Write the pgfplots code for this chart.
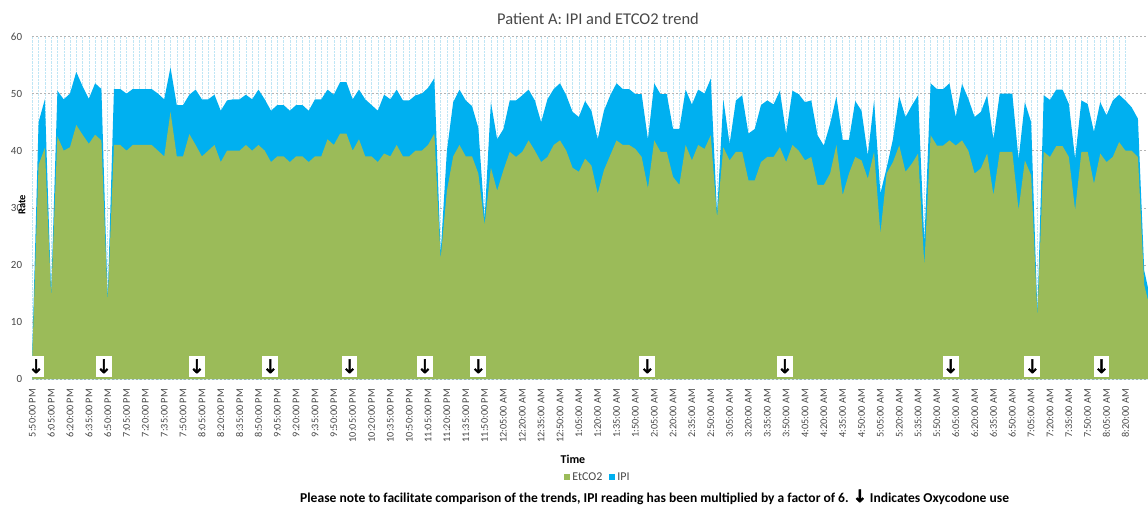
\documentclass[border=0pt]{standalone}
\usepackage{pgfplots}
\pgfplotsset{compat=1.18}
\usepackage{pgfplotstable}
\usepackage{fontspec}
\setmainfont{Carlito}
\newfontfamily\arrowfont[FakeBold=2.5]{DejaVu Sans}
\definecolor{etgreen}{HTML}{9BBB59}
\definecolor{ipiblue}{HTML}{00B0F0}
\definecolor{gridblue}{HTML}{BFE6F5}
\definecolor{gridgray}{HTML}{B4B4B4}
\definecolor{labelgray}{HTML}{474747}
\pgfplotstableread{
i ipi et
0 5 4
1 45 37.5
2 49 40.5
3 15 14.5
4 50.5 42.5
5 49 40
6 50 40.6
7 53.8 44.5
8 51.3 42.8
9 49.1 41.2
10 51.8 42.8
11 50.8 41.8
12 14 13.5
13 50.8 41
14 50.8 41
15 50 40
16 50.8 41
17 50.8 41
18 50.8 41
19 50.8 41
20 50 40
21 49 39
22 54.6 46.8
23 48 39
24 48 39
25 49.8 42.9
26 50.7 41
27 49 39
28 49 40
29 49.8 41
30 47 38
31 48.8 40
32 49 40
33 49 40
34 49.8 41
35 49 40
36 50.7 41
37 49 40
38 47 38
39 48 39
40 48 39
41 47 38
42 48 39
43 48 39
44 47 38
45 49 39
46 49 39
47 50.7 42
48 49.8 41
49 52 43
50 52 43
51 49 40
52 50.7 42
53 49 39
54 48 39
55 47 38
56 49.8 39.5
57 49 39
58 50.7 41
59 48.8 39
60 48.8 39
61 49.7 40
62 50 40
63 51 41
64 52.7 43
65 22 21
66 40 33
67 48.5 39
68 50.7 41
69 48.8 39
70 47.8 39
71 44 36
72 28 27
73 48.5 37
74 42 33
75 43.8 36.6
76 48.8 39.8
77 48.8 38.9
78 49.7 39.8
79 50.7 41.8
80 48.8 40
81 45 38
82 49 38.9
83 50.8 41
84 51.8 41.8
85 49.7 40
86 46.8 37
87 45.9 36.3
88 48.7 38.6
89 47 37.4
90 42 32.5
91 47 36.6
92 49.7 39.2
93 51.8 41.8
94 50.8 41
95 50.8 41
96 49.9 40.3
97 49.9 38.9
98 42 33.4
99 51.8 41.8
100 49.9 39.8
101 49.9 39.8
102 43.8 35.4
103 43.8 34
104 50.7 41
105 48.1 38.3
106 50.7 41
107 50 40.3
108 52.6 42.7
109 29 28.3
110 49 40.6
111 41.2 38.3
112 48.8 39.8
113 49.7 39.8
114 43 34.8
115 43.8 34.8
116 48 38
117 48.8 38.9
118 48.1 38.9
119 50.5 40.6
120 43 38
121 50.5 41
122 49.9 40
123 48.5 38.3
124 48.8 38.9
125 42.7 34
126 40.9 34
127 44.7 36
128 49.5 41
129 41.9 32.2
130 41.9 36
131 48.7 38.9
132 47 38.3
133 39.2 35.1
134 48.8 39.8
135 32.5 25.5
136 37 36
137 42 38
138 49.5 40.9
139 45.9 36.3
140 47.9 37.7
141 49.7 39.5
142 24 19.9
143 51.8 42.7
144 50.8 40.9
145 50.8 40.9
146 51.8 41.8
147 45.9 40.9
148 51.7 41.8
149 49.1 40
150 45.9 36
151 46.8 36.9
152 49.7 39.5
153 42 32.2
154 50 39.8
155 50 39.8
156 50 39.8
157 38.5 29.6
158 48.5 38.3
159 45 35.7
160 11.5 10.9
161 49.7 39.8
162 48.9 38.9
163 50.7 40.8
164 50.7 40.8
165 48.2 38.9
166 38.6 29.6
167 48.8 39.8
168 48.2 39.8
169 43.3 34.2
170 48.5 39.5
171 46.2 38
172 48.8 38.9
173 49.8 41.5
174 48.8 40
175 47.6 40
176 45.6 38.9
177 19 16.5
178 14 12
}\datatable
\newcommand{\arrowglyph}{{\arrowfont\fontsize{19}{19}\selectfont ↓}}
\begin{document}
\begin{tikzpicture}
\useasboundingbox (0,0) rectangle (1148bp,-505bp);
\begin{axis}[
  at={(32.3bp,-379bp)}, anchor=south west,
  scale only axis, width=1115.7bp, height=342.5bp,
  xmin=0, xmax=177.6, ymin=0, ymax=60,
  ytick={0,10,...,60},
  xtick={0,3,...,174},
  xticklabels={5:50:00 PM,6:05:00 PM,6:20:00 PM,6:35:00 PM,6:50:00 PM,7:05:00 PM,7:20:00 PM,7:35:00 PM,7:50:00 PM,8:05:00 PM,8:20:00 PM,8:35:00 PM,8:50:00 PM,9:05:00 PM,9:20:00 PM,9:35:00 PM,9:50:00 PM,10:05:00 PM,10:20:00 PM,10:35:00 PM,10:50:00 PM,11:05:00 PM,11:20:00 PM,11:35:00 PM,11:50:00 PM,12:05:00 AM,12:20:00 AM,12:35:00 AM,12:50:00 AM,1:05:00 AM,1:20:00 AM,1:35:00 AM,1:50:00 AM,2:05:00 AM,2:20:00 AM,2:35:00 AM,2:50:00 AM,3:05:00 AM,3:20:00 AM,3:35:00 AM,3:50:00 AM,4:05:00 AM,4:20:00 AM,4:35:00 AM,4:50:00 AM,5:05:00 AM,5:20:00 AM,5:35:00 AM,5:50:00 AM,6:05:00 AM,6:20:00 AM,6:35:00 AM,6:50:00 AM,7:05:00 AM,7:20:00 AM,7:35:00 AM,7:50:00 AM,8:05:00 AM,8:20:00 AM},
  minor x tick num=2,
  xmajorgrids, xminorgrids, ymajorgrids,
  major x grid style={densely dotted, color=gridblue},
  minor x grid style={densely dotted, color=gridblue},
  major y grid style={dash pattern=on 2bp off 2bp, color=gridgray},
  axis line style={draw=none},
  major tick length=0pt, minor tick length=0pt,
  /pgf/number format/assume math mode=true,
  tick label style={text=labelgray},
  xticklabel style={rotate=90, anchor=east, inner sep=0pt, font=\fontsize{10.3}{11}\selectfont},
  xticklabel shift=10bp,
  yticklabel style={inner sep=0pt, anchor=east, font=\fontsize{11}{12}\selectfont},
  yticklabel shift=10bp,
  ylabel={Rate},
  every axis y label/.style={at={(axis description cs:-0.0092,0.508)}, rotate=90, anchor=center, font=\bfseries\fontsize{10.5}{12}\selectfont},
  xlabel={Time},
  every axis x label/.style={at={(axis description cs:0.4846,-0.2336)}, anchor=center, font=\bfseries\fontsize{12}{13}\selectfont},
  legend columns=2,
  legend style={draw=none, fill=none, at={(axis description cs:0.507,-0.286)}, anchor=center, font=\fontsize{12}{13}\selectfont, text=labelgray, inner sep=0pt, /tikz/every even column/.append style={column sep=5bp}},
  legend image code/.code={\fill[#1] (0bp,-3bp) rectangle (6bp,3bp);},
]
\addplot[forget plot, fill=ipiblue, draw=none] table[x=i, y=ipi] {\datatable} \closedcycle;
\addplot[forget plot, fill=etgreen, draw=none] table[x=i, y=et] {\datatable} \closedcycle;
\addplot[forget plot, draw=none, mark=none, nodes near coords={\arrowglyph},
  every node near coord/.style={anchor=south, fill=white, inner sep=0pt, minimum width=14bp, minimum height=21bp, text=black}]
  coordinates {(0.6,0.35) (11.4,0.35) (26.2,0.35) (37.9,0.35) (50.5,0.35) (62.5,0.35) (71,0.35) (97.9,0.35) (119.8,0.35) (146.2,0.35) (159.2,0.35) (170.2,0.35)};
\addlegendimage{fill=etgreen, draw=none}
\addlegendentry{EtCO2}
\addlegendimage{fill=ipiblue, draw=none}
\addlegendentry{IPI}
\end{axis}
\node[anchor=center, text=labelgray, font=\fontsize{16.5}{18}\selectfont] at (598bp,-19bp) {Patient A: IPI and ETCO2 trend};
\node[anchor=west, inner sep=0pt, font=\bfseries\fontsize{13.6}{15}\selectfont] at (300bp,-497bp) {Please note to facilitate comparison of the trends, IPI reading has been multiplied by a factor of 6. {\arrowfont\fontsize{17}{17}\selectfont ↓} Indicates Oxycodone use};
\end{tikzpicture}
\end{document}
